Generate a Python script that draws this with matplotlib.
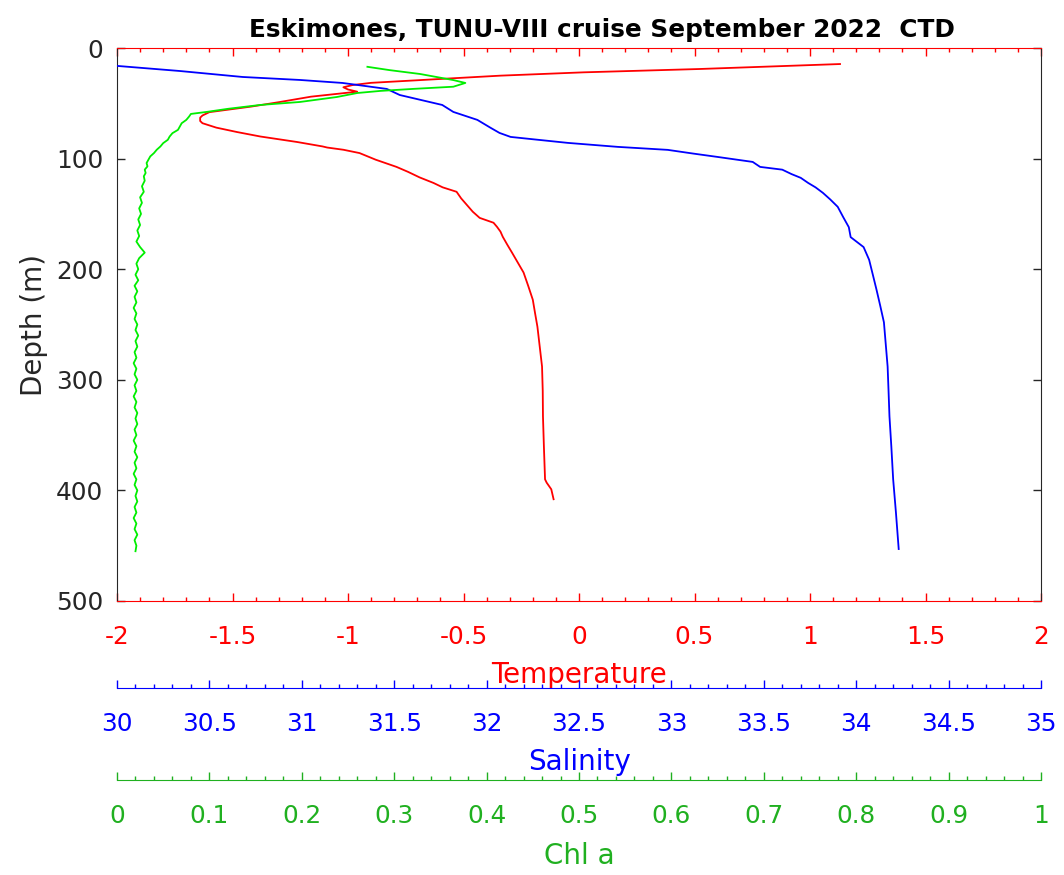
import numpy as np
import matplotlib.pyplot as plt
from matplotlib.ticker import MultipleLocator, FuncFormatter

plt.rcParams['font.family'] = ['DejaVu Sans']
plt.rcParams['axes.unicode_minus'] = False

# temperature profile (deg C) vs depth (m)
temp_depth = [14.5, 19, 22, 25, 28, 31.5, 33.5, 35.5, 37.5, 39.5, 44, 49, 53, 58, 61, 63, 66,
              68, 72, 76, 80, 85, 89, 90, 92, 95, 101, 107.5, 112, 117, 122, 126, 130, 136,
              142, 148, 153.6, 158, 161.7, 166, 170.7, 178, 185, 194, 203, 215, 227.6, 240,
              252, 270, 288, 310, 333, 360, 390, 393, 399, 408]
temp = [1.13, 0.52, 0.02, -0.34, -0.60, -0.90, -0.98, -1.02, -1.00, -0.96, -1.16, -1.30,
        -1.42, -1.60, -1.63, -1.64, -1.64, -1.63, -1.57, -1.48, -1.38, -1.22, -1.11, -1.09,
        -1.02, -0.95, -0.88, -0.79, -0.74, -0.69, -0.63, -0.59, -0.53, -0.51, -0.485, -0.46,
        -0.43, -0.37, -0.355, -0.34, -0.33, -0.31, -0.29, -0.265, -0.24, -0.22, -0.20, -0.19,
        -0.18, -0.17, -0.16, -0.157, -0.156, -0.152, -0.147, -0.14, -0.12, -0.11]

# salinity profile vs depth
sal_depth = [15.5, 20.8, 26.2, 28.9, 31.6, 37.0, 42.5, 51.5, 57.8, 65.0, 72, 76.8, 80.4,
             82.5, 85.8, 89.4, 92.1, 95.5, 98.5, 103, 107.5, 110, 114, 117.4, 122, 126, 131,
             137, 143.6, 153, 162, 171, 180, 191.5, 205, 218.6, 233, 248, 268, 288, 310, 333,
             360, 390, 420, 453]
sal = [29.95, 30.34, 30.68, 30.99, 31.22, 31.46, 31.53, 31.76, 31.82, 31.95, 32.02, 32.07,
       32.13, 32.25, 32.44, 32.71, 32.98, 33.12, 33.25, 33.44, 33.48, 33.60, 33.65, 33.70,
       33.74, 33.78, 33.82, 33.86, 33.90, 33.93, 33.96, 33.97, 34.04, 34.07, 34.09, 34.11,
       34.13, 34.15, 34.16, 34.17, 34.175, 34.18, 34.19, 34.20, 34.215, 34.23]

# chlorophyll a vs depth
chl_depth = [17, 20, 23.5, 29, 31.6, 35, 37, 38.8, 40.7, 44.3, 48.8, 51.5, 55, 57.8, 59.6,
             62, 65, 68, 71, 74, 77, 80, 83, 86, 89, 92, 95, 98, 101, 104, 107, 110, 113, 116,
             120, 125, 130, 135, 140, 145, 150, 155, 160, 165, 170, 175, 180, 185, 190, 195,
             200, 205, 210, 215, 220, 225, 230, 235, 240, 245, 250, 255, 260, 265, 270, 275,
             280, 285, 290, 295, 300, 305, 310, 315, 320, 325, 330, 335, 340, 345, 350, 355,
             360, 365, 370, 375, 380, 385, 390, 395, 400, 405, 410, 415, 420, 425, 430, 435,
             440, 445, 450, 455]
chl = [0.271, 0.295, 0.328, 0.364, 0.377, 0.364, 0.320, 0.285, 0.260, 0.238, 0.198, 0.155,
       0.120, 0.097, 0.080, 0.078, 0.075, 0.070, 0.068, 0.066, 0.060, 0.057, 0.055, 0.050,
       0.047, 0.043, 0.040, 0.036, 0.034, 0.032, 0.033, 0.030, 0.031, 0.029,
       0.030, 0.027, 0.029, 0.025, 0.027, 0.024, 0.026, 0.023, 0.025, 0.022, 0.024, 0.021,
       0.025, 0.030, 0.024, 0.021, 0.023, 0.020, 0.023, 0.019, 0.022, 0.019, 0.021, 0.018,
       0.021, 0.019, 0.022, 0.020, 0.023, 0.020, 0.022, 0.019, 0.021, 0.018, 0.021, 0.019,
       0.022, 0.019, 0.021, 0.018, 0.021, 0.019, 0.022, 0.020, 0.022, 0.019, 0.021, 0.018,
       0.021, 0.019, 0.022, 0.019, 0.021, 0.018, 0.021, 0.019, 0.022, 0.020, 0.022, 0.019,
       0.021, 0.018, 0.021, 0.019, 0.022, 0.019, 0.021, 0.020]

title = 'Eskimones, TUNU-VIII cruise September 2022  CTD'
dark = '#262626'
chl_axis_col = '#20b020'
tick_fs = 17.8
label_fs = 20

fmt = FuncFormatter(lambda v, p: '%g' % round(v, 6))


def style_x(a, col, major, minor):
    a.xaxis.set_major_locator(MultipleLocator(major))
    a.xaxis.set_minor_locator(MultipleLocator(minor))
    a.xaxis.set_major_formatter(fmt)
    a.tick_params(axis='x', which='major', direction='in', length=6, width=1,
                  colors=col, labelsize=tick_fs, pad=17)
    a.tick_params(axis='x', which='minor', direction='in', length=3, width=1, colors=col)


fig = plt.figure(figsize=(10.64, 8.75), dpi=100)
ax = fig.add_axes([117/1064, 1 - 601/875, 924/1064, 553/875])

ax.plot(temp, temp_depth, color='#ff0000', lw=1.3)
ax.set_xlim(-2, 2)
ax.set_ylim(500, 0)

# salinity axis
ax2 = ax.twiny()
ax2.plot(sal, sal_depth, color='#0000ff', lw=1.3)
ax2.set_xlim(30, 35)
ax2.xaxis.set_ticks_position('bottom')
ax2.xaxis.set_label_position('bottom')
ax2.spines['bottom'].set_position(('axes', -87/553))
for s in ['top', 'left', 'right']:
    ax2.spines[s].set_visible(False)
ax2.spines['bottom'].set_color('#0000ff')
style_x(ax2, '#0000ff', 0.5, 0.1)
ax2.set_xlabel('Salinity', color='#0000ff', fontsize=label_fs, labelpad=9)

# chl axis
ax3 = ax.twiny()
ax3.plot(chl, chl_depth, color='#00ee00', lw=1.3)
ax3.set_xlim(0, 1)
ax3.xaxis.set_ticks_position('bottom')
ax3.xaxis.set_label_position('bottom')
ax3.spines['bottom'].set_position(('axes', -179/553))
for s in ['top', 'left', 'right']:
    ax3.spines[s].set_visible(False)
ax3.spines['bottom'].set_color(chl_axis_col)
style_x(ax3, chl_axis_col, 0.1, 0.02)
ax3.set_xlabel('Chl a', color=chl_axis_col, fontsize=label_fs, labelpad=10)

# main axis (after twins, since twiny resets its ticks)
style_x(ax, '#ff0000', 0.5, 0.1)
ax.tick_params(axis='x', which='both', top=True, bottom=True)
ax.spines['top'].set_color('#ff0000')
ax.spines['bottom'].set_color('#ff0000')
ax.spines['left'].set_color(dark)
ax.spines['right'].set_color(dark)
ax.set_xlabel('Temperature', color='#ff0000', fontsize=label_fs, labelpad=9)

ax.set_yticks(np.arange(0, 501, 100))
ax.tick_params(axis='y', direction='in', left=True, right=True, length=6, width=1,
               colors=dark, labelsize=tick_fs, pad=10)
ax.set_ylabel('Depth (m)', color=dark, fontsize=label_fs, labelpad=6)
ax.set_title(title, fontsize=17.8, fontweight='bold', pad=8, x=0.525)

fig.savefig('out.png', dpi=100)
